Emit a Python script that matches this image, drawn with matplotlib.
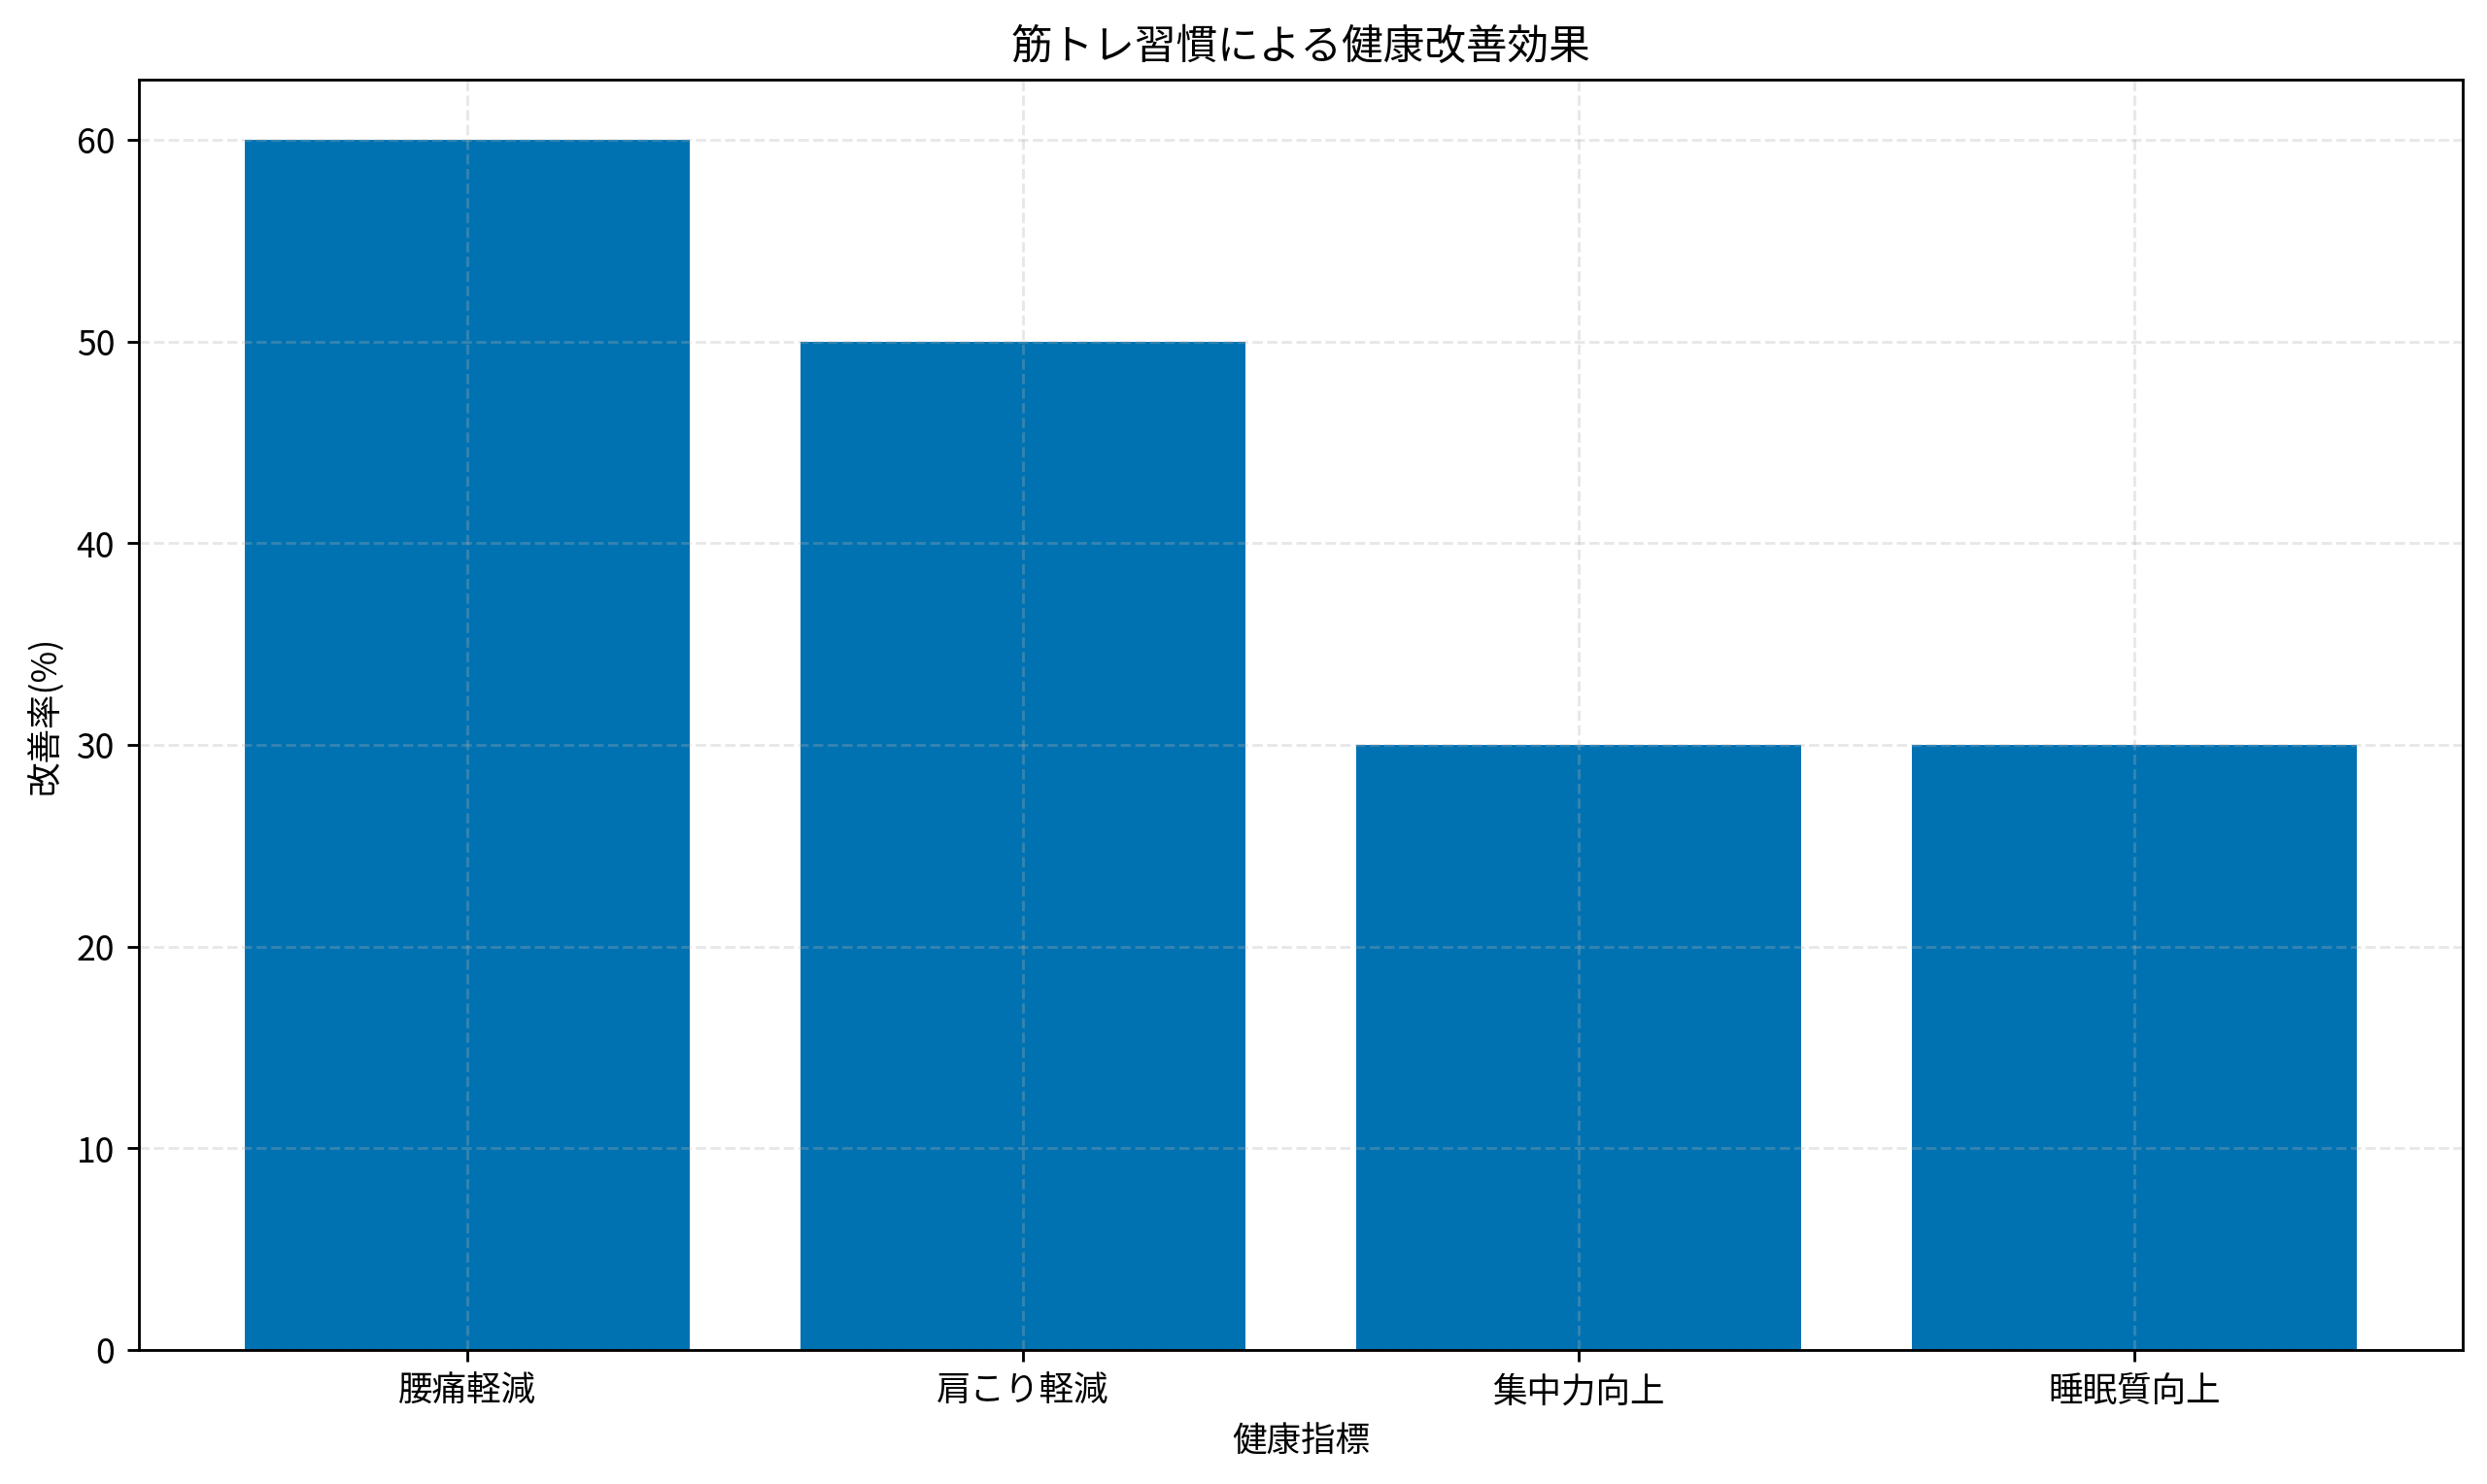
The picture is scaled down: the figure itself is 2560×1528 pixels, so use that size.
import matplotlib.pyplot as plt

plt.rcParams['font.family'] = ['Noto Sans CJK JP', 'DejaVu Sans']

indicators = ["腰痛軽減", "肩こり軽減", "集中力向上", "睡眠質向上"]
improvement = [60, 50, 30, 30]

fig, ax = plt.subplots(figsize=(10, 5.97))
ax.bar(indicators, improvement, color="#0072B2")
ax.set_title("筋トレ習慣による健康改善効果", fontsize=12)
ax.set_xlabel("健康指標")
ax.set_ylabel("改善率(%)")
ax.grid(True, linestyle="--", alpha=0.3)
fig.subplots_adjust(left=0.0559, right=0.9902, top=0.9463, bottom=0.0903)
plt.savefig("out.png", dpi=256)
